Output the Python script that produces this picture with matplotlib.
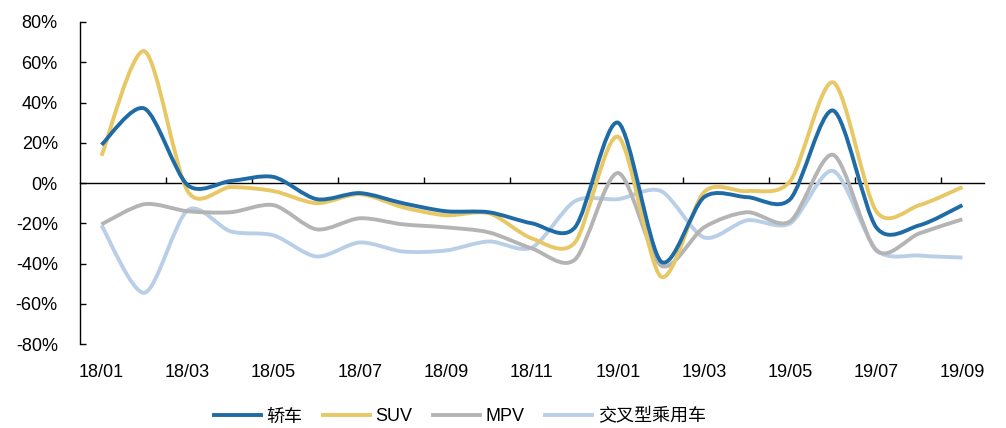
import matplotlib
matplotlib.use("Agg")
import matplotlib.pyplot as plt
from matplotlib.path import Path
from matplotlib.patches import PathPatch
from matplotlib.lines import Line2D
from matplotlib.ticker import FuncFormatter, FixedLocator

plt.rcParams['font.family'] = ['Liberation Sans', 'Noto Sans CJK SC']

months = ['18/01', '18/02', '18/03', '18/04', '18/05', '18/06', '18/07',
          '18/08', '18/09', '18/10', '18/11', '18/12', '19/01', '19/02',
          '19/03', '19/04', '19/05', '19/06', '19/07', '19/08', '19/09']

# monthly yoy growth, %
sedan = [19, 37, -1, 1, 3, -8, -5, -10, -14, -14.5, -20, -22, 30, -39,
         -7, -7, -8, 36, -22, -21, -11]
suv = [13.5, 65.5, -4, -2, -4, -10, -5.5, -12, -16, -15, -27.5, -29.5, 23, -46.5,
       -4.5, -4, 1, 50, -14, -11, -2]
mpv = [-20.5, -10.5, -14, -14.5, -11, -23, -17.5, -20.5, -22, -24.5, -32.5, -38, 5, -41,
       -22, -14.5, -19, 14, -33.5, -25, -18]
cross = [-21, -54.5, -13.5, -24, -26, -36.5, -29.5, -34, -33.5, -29, -32, -9, -8, -4,
         -27, -18.5, -20, 6, -33, -36, -37]

names = ['轿车', 'SUV', 'MPV', '交叉型乘用车']
colors = ['#1f6ba6', '#e8c765', '#b4b4b4', '#b9cfe7']

K = 7.0  # smoothing strength of the bezier handles


def smooth_path(xs, ys):
    # excel-like smoothed line drawn as cubic bezier segments
    pts = list(zip(xs, ys))
    n = len(pts)
    verts = [pts[0]]
    codes = [Path.MOVETO]
    for i in range(n - 1):
        p0 = pts[i - 1] if i > 0 else pts[i]
        p1 = pts[i]
        p2 = pts[i + 1]
        p3 = pts[i + 2] if i + 2 < n else pts[i + 1]
        c1 = (p1[0] + (p2[0] - p0[0]) / K, p1[1] + (p2[1] - p0[1]) / K)
        c2 = (p2[0] - (p3[0] - p1[0]) / K, p2[1] - (p3[1] - p1[1]) / K)
        verts += [c1, c2, p2]
        codes += [Path.CURVE4] * 3
    return Path(verts, codes)


fig = plt.figure(figsize=(10.06, 4.28), dpi=100)
ax = fig.add_axes([0.0795, 0.196, 0.8985, 0.7526])

x = list(range(len(months)))
handles = []
for ys, c in zip([sedan, suv, mpv, cross][::-1], colors[::-1]):
    patch = PathPatch(smooth_path(x, ys), facecolor='none', edgecolor=c,
                      lw=2.8, capstyle='butt', joinstyle='round')
    ax.add_patch(patch)
for c, nm in zip(colors, names):
    handles.append(Line2D([], [], color=c, lw=2.8, label=nm))

ax.set_xlim(-0.5, len(months) - 0.5)
ax.set_ylim(-80, 80)

ax.spines['top'].set_visible(False)
ax.spines['right'].set_visible(False)
ax.spines['bottom'].set_visible(False)
ax.spines['left'].set_linewidth(1.0)

ax.set_yticks(range(-80, 81, 20))
ax.yaxis.set_major_formatter(FuncFormatter(lambda v, p: '%d%%' % v))
ax.tick_params(axis='y', direction='in', length=4, width=1.0, labelsize=13, pad=16)

ax.set_xticks(x[::2])
ax.set_xticklabels(months[::2])
ax.tick_params(axis='x', length=0, labelsize=13, pad=14)

# zero line with category boundary ticks
zero = ax.secondary_xaxis(0.5)
zero.xaxis.set_major_locator(FixedLocator([i + 1.5 for i in range(0, len(months) - 1, 2)]))
zero.tick_params(direction='out', length=4, width=1.0, labeltop=False, labelbottom=False)
for sp in zero.spines.values():
    sp.set_linewidth(1.0)

fig.legend(handles=handles, loc='lower center', bbox_to_anchor=(0.457, -0.032),
           ncol=4, frameon=False, fontsize=13, handlelength=2.6,
           handletextpad=0.3, columnspacing=1.15)

fig.savefig('out.png', dpi=100)
